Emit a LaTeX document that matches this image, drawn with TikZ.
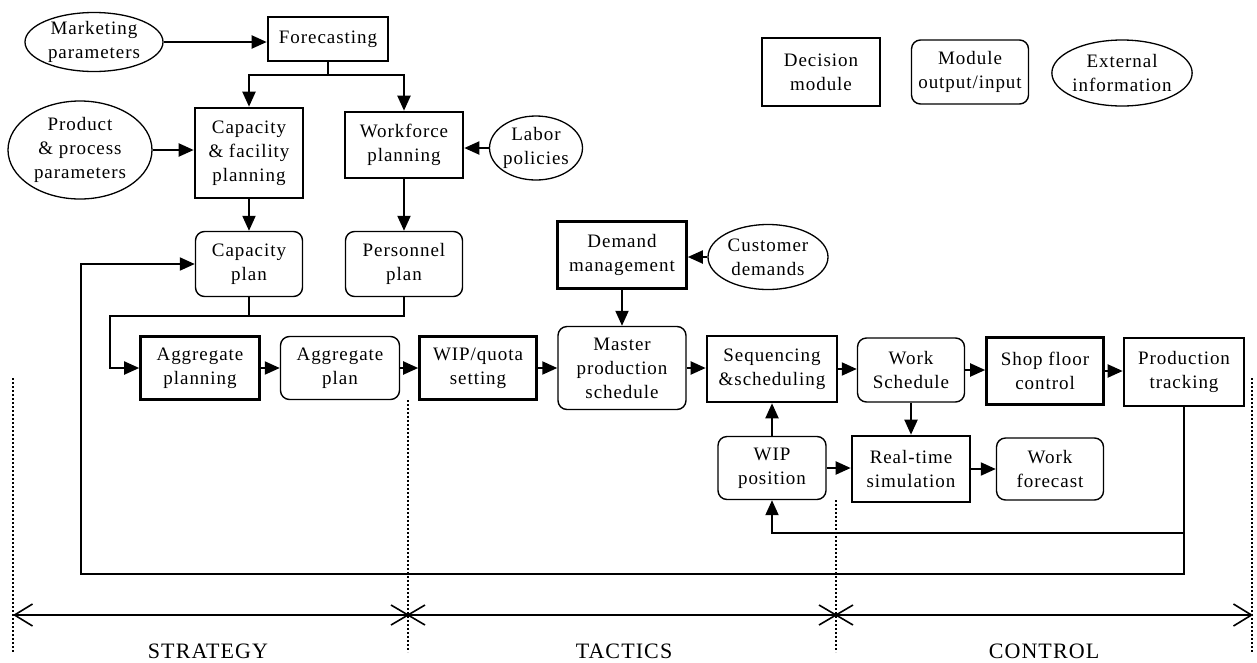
\documentclass[tikz,border=0pt]{standalone}
\usepackage{fontspec}
\setmainfont[LetterSpace=5]{Liberation Serif}
\usetikzlibrary{arrows.meta,shapes.geometric}
\begin{document}
\begin{tikzpicture}[x=1pt,y=-1pt,
  every node/.style={font=\fontsize{19}{24}\selectfont, align=center, inner sep=0pt},
  dec/.style={draw, line width=2.6pt, rectangle},
  mod/.style={draw, line width=1.4pt, rectangle, rounded corners=9pt},
  ext/.style={draw, line width=1.3pt, ellipse},
  arr/.style={line width=2pt, -{Triangle[length=15pt,width=13pt]}},
  ln/.style={line width=2pt},
  sep/.style={line width=1.6pt, dash pattern=on 2pt off 2pt},
  era/.style={font=\fontsize{22}{26}\selectfont, anchor=base}
]
\useasboundingbox (0,0) rectangle (1257,662);

% legend
\node[dec, minimum width=118pt, minimum height=68pt] (ld) at (821,72) {Decision\\module};
\node[mod, minimum width=117pt, minimum height=64pt] (lm) at (970,72) {Module\\output/input};
\node[ext, minimum width=125pt, minimum height=66pt] (le) at (1122,73) {External\\information};

% strategy nodes
\node[ext, minimum width=138pt, minimum height=59pt] (mkt) at (94,42) {Marketing\\parameters};
\node[dec, minimum width=120pt, minimum height=44pt] (fc) at (328,39) {Forecasting};
\node[ext, minimum width=144pt, minimum height=98pt] (ppp) at (80,150) {Product\\\& process\\parameters};
\node[dec, minimum width=108pt, minimum height=90pt] (cfp) at (249,153) {Capacity\\\& facility\\planning};
\node[dec, minimum width=118pt, minimum height=66pt] (wfp) at (404,145) {Workforce\\planning};
\node[ext, minimum width=88pt, minimum height=64pt] (lab) at (536,148) {Labor\\policies};
\node[mod, minimum width=107pt, minimum height=65pt] (cp) at (249,264) {Capacity\\plan};
\node[mod, minimum width=117pt, minimum height=65pt] (pp) at (404,264) {Personnel\\plan};

% main row
\node[dec, minimum width=119pt, minimum height=63pt] (ap) at (200,368) {Aggregate\\planning};
\node[mod, minimum width=119pt, minimum height=63pt] (apl) at (340,368) {Aggregate\\plan};
\node[dec, minimum width=117pt, minimum height=63pt] (wq) at (478,368) {WIP/quota\\setting};
\node[mod, minimum width=128pt, minimum height=83pt] (mps) at (622,368) {Master\\production\\schedule};
\node[dec, minimum width=129pt, minimum height=67pt] (dm) at (622,255) {Demand\\management};
\node[ext, minimum width=120pt, minimum height=65pt] (cd) at (768,257) {Customer\\demands};
\node[dec, minimum width=130pt, minimum height=66pt] (ss) at (772,369) {Sequencing\\\&scheduling};
\node[mod, minimum width=107pt, minimum height=64pt] (ws) at (911,370) {Work\\Schedule};
\node[dec, minimum width=117pt, minimum height=67pt] (sfc) at (1045,371) {Shop floor\\control};
\node[dec, minimum width=120pt, minimum height=68pt] (pt) at (1184,372) {Production\\tracking};
\node[mod, minimum width=108pt, minimum height=63pt] (wip) at (772,468) {WIP\\position};
\node[dec, minimum width=118pt, minimum height=66pt] (rts) at (911,469) {Real-time\\simulation};
\node[mod, minimum width=107pt, minimum height=62pt] (wf) at (1050,469) {Work\\forecast};

% connectors
\coordinate (br) at (328,75);
\coordinate (jn) at (110,316);
\coordinate (fbl) at (81,574);
\coordinate (fbw) at (0,533);

\draw[arr] (mkt.east) -- (mkt.east -| fc.west);
\draw[ln] (fc.south) -- (br);
\draw[arr] (br) -| (cfp.north);
\draw[arr] (br) -| (wfp.north);
\draw[arr] (ppp.east) -- (ppp.east -| cfp.west);
\draw[arr] (lab.west) -- (lab.west -| wfp.east);
\draw[arr] (cfp.south) -- (cp.north);
\draw[arr] (wfp.south) -- (pp.north);
\draw[ln] (cp.south) -- (cp.south |- jn);
\draw[arr] (pp.south) |- (jn) |- (ap.west);
\draw[arr] (ap.east) -- (apl.west);
\draw[arr] (apl.east) -- (wq.west);
\draw[arr] (wq.east) -- (mps.west);
\draw[arr] (mps.east) -- (mps.east -| ss.west);
\draw[arr] (dm.south) -- (mps.north);
\draw[arr] (cd.west) -- (cd.west -| dm.east);
\draw[arr] (ss.east) -- (ss.east -| ws.west);
\draw[arr] (ws.east) -- (ws.east -| sfc.west);
\draw[arr] (sfc.east) -- (sfc.east -| pt.west);
\draw[arr] (wip.north) -- (ss.south);
\draw[arr] (ws.south) -- (rts.north);
\draw[arr] (wip.east) -- (wip.east -| rts.west);
\draw[arr] (rts.east) -- (rts.east -| wf.west);
\draw[arr] (pt.south) |- (fbl) |- (cp.west);
\draw[arr] (pt.south |- fbw) -| (wip.south);

% phase separators
\coordinate (s1t) at (13,378);   \coordinate (s1b) at (13,652);
\coordinate (s2t) at (408,400);  \coordinate (s2b) at (408,652);
\coordinate (s3t) at (836,500);  \coordinate (s3b) at (836,652);
\coordinate (s4t) at (1252,378); \coordinate (s4b) at (1252,652);
\draw[sep] (s1t) -- (s1b);
\draw[sep] (s2t) -- (s2b);
\draw[sep] (s3t) -- (s3b);
\draw[sep] (s4t) -- (s4b);

\coordinate (tl) at (13,615);
\coordinate (tr) at (1253,615);
\draw[line width=1.6pt, {Straight Barb[length=18pt,width=22pt,line width=1.6pt]}-{Straight Barb[length=18pt,width=22pt,line width=1.6pt]}] (tl) -- (tr);
\coordinate (x1) at (408,615);
\coordinate (x2) at (836,615);
\draw[line width=1.6pt] (x1) ++(-17,-10) -- ++(34,20) (x1) ++(-17,10) -- ++(34,-20);
\draw[line width=1.6pt] (x2) ++(-17,-10) -- ++(34,20) (x2) ++(-17,10) -- ++(34,-20);

\node[era] (lst) at (208,658) {STRATEGY};
\node[era] (ltc) at (624,658) {TACTICS};
\node[era] (lct) at (1044,658) {CONTROL};
\end{tikzpicture}
\end{document}
